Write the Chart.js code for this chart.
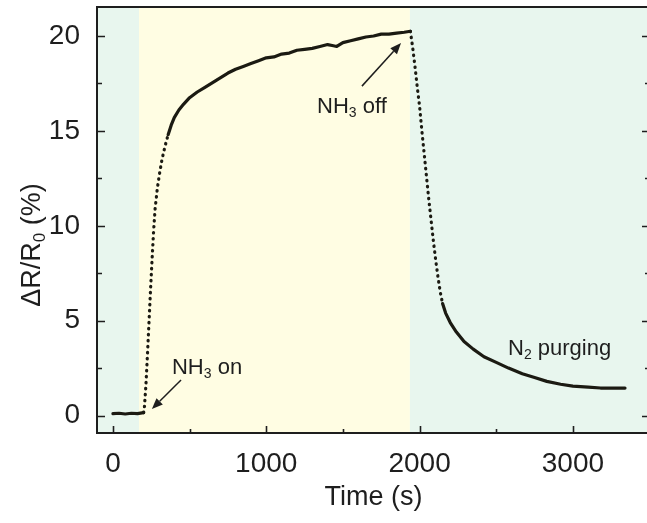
<!DOCTYPE html>
<html><head><meta charset="utf-8">
<script src="https://cdn.jsdelivr.net/npm/chart.js@4.4.1/dist/chart.umd.min.js"></script>
<style>
html,body{margin:0;padding:0;background:#fff;overflow:hidden}
#wrap{width:647px;height:523px;overflow:hidden;position:relative}
canvas{display:block}
</style></head><body>
<div id="wrap"><canvas id="c" width="652" height="523"></canvas></div>
<script>
// ---- data ----
const timeS = [0, 40, 80, 120, 160, 200, 205, 215, 225, 235, 245, 255, 265, 275, 290, 305, 320, 340, 360, 380, 400,
  430, 460, 500, 550, 600, 650, 700, 750, 800, 850, 900, 950, 1000, 1050, 1100, 1150, 1200, 1250, 1300,
  1350, 1400, 1430, 1460, 1500, 1550, 1600, 1650, 1700, 1750, 1800, 1850, 1900, 1940,
  1955, 1970, 1985, 2000, 2015, 2030, 2045, 2060, 2075, 2090, 2105, 2120, 2135, 2150, 2170, 2200,
  2240, 2290, 2350, 2420, 2500, 2580, 2670, 2750, 2830, 2920, 3000, 3100, 3180, 3260, 3340];
const responsePct = [0.1, 0.12, 0.08, 0.12, 0.1, 0.15, 0.4, 1.6, 3.2, 4.9, 6.6, 8.2, 9.7, 10.9, 12.0, 12.8, 13.5, 14.2, 14.8, 15.3, 15.7,
  16.1, 16.4, 16.75, 17.05, 17.3, 17.55, 17.8, 18.05, 18.25, 18.4, 18.55, 18.7, 18.85, 18.9, 19.05, 19.1, 19.25, 19.3, 19.35,
  19.45, 19.55, 19.5, 19.45, 19.65, 19.75, 19.85, 19.95, 20.0, 20.1, 20.1, 20.15, 20.2, 20.25,
  19.4, 18.4, 17.3, 16.3, 15.0, 13.8, 12.6, 11.4, 10.3, 9.2, 8.2, 7.3, 6.5, 5.9, 5.4, 4.9,
  4.4, 3.9, 3.5, 3.1, 2.8, 2.5, 2.2, 2.0, 1.8, 1.65, 1.55, 1.5, 1.45, 1.45, 1.45];
const xTicks = [0, 1000, 2000, 3000];
const yTicks = [0, 5, 10, 15, 20];
const phaseEdges = [170, 1937];          // NH3 switched on / off (s)
const xTitle = 'Time (s)';
const yTitleParts = [['ΔR/R', false], ['0', true], [' (%)', false]];
const notes = [
  { parts: [['NH', false], ['3', true], [' on', false]], t: 385, v: 2.19 },
  { parts: [['NH', false], ['3', true], [' off', false]], t: 1331, v: 15.94 },
  { parts: [['N', false], ['2', true], [' purging', false]], t: 2577, v: 3.19 }
];
const arrows = [
  { from: [444, 1.87], to: [254, 0.34] },
  { from: [1624, 17.36], to: [1879, 19.63] }
];

// ---- styling ----
const FONT = '"Liberation Sans", Arial, Helvetica, sans-serif';
const INK = '#1e1e1e';
const MINT = '#e8f6ee';
const YELLOW = '#fffde3';

function drawParts(ctx, parts, x, y, size, align) {
  const subSize = Math.round(size * 0.62);
  let total = 0;
  parts.forEach(([s, sub]) => { ctx.font = (sub ? subSize : size) + 'px ' + FONT; total += ctx.measureText(s).width; });
  let cx = align === 'center' ? x - total / 2 : x;
  ctx.textAlign = 'left'; ctx.textBaseline = 'alphabetic';
  parts.forEach(([s, sub]) => {
    ctx.font = (sub ? subSize : size) + 'px ' + FONT;
    ctx.fillText(s, cx, sub ? y + size * 0.2 : y);
    cx += ctx.measureText(s).width;
  });
}

const framePlugin = {
  id: 'frame',
  beforeDraw(chart) {
    const { ctx, chartArea: a, scales: { x } } = chart;
    ctx.save();
    ctx.fillStyle = '#fff'; ctx.fillRect(0, 0, chart.width, chart.height);
    const x0 = x.getPixelForValue(phaseEdges[0]), x1 = x.getPixelForValue(phaseEdges[1]);
    const h = a.bottom - a.top;
    ctx.fillStyle = MINT; ctx.fillRect(a.left, a.top, x0 - a.left, h);
    ctx.fillStyle = YELLOW; ctx.fillRect(x0, a.top, x1 - x0, h);
    ctx.fillStyle = MINT; ctx.fillRect(x1, a.top, a.right - x1, h);
    ctx.restore();
  },
  afterDatasetsDraw(chart) {
    const { ctx, chartArea: a, scales: { x, y } } = chart;
    ctx.save();
    ctx.strokeStyle = INK; ctx.fillStyle = INK;
    // ticks (inward)
    ctx.lineWidth = 1.6;
    ctx.beginPath();
    yTicks.forEach((v, i) => {
      const p = Math.round(y.getPixelForValue(v)) + 0.5;
      ctx.moveTo(a.left, p); ctx.lineTo(a.left + 8, p);
      ctx.moveTo(a.right, p); ctx.lineTo(a.right - 8, p);
      if (i < yTicks.length - 1) {
        const m = Math.round(y.getPixelForValue((v + yTicks[i + 1]) / 2)) + 0.5;
        ctx.moveTo(a.left, m); ctx.lineTo(a.left + 5, m);
        ctx.moveTo(a.right, m); ctx.lineTo(a.right - 5, m);
      }
    });
    xTicks.forEach((v, i) => {
      const p = Math.round(x.getPixelForValue(v)) + 0.5;
      ctx.moveTo(p, a.bottom); ctx.lineTo(p, a.bottom - 7);
      const m = Math.round(x.getPixelForValue(v + (xTicks[1] - xTicks[0]) / 2)) + 0.5;
      ctx.moveTo(m, a.bottom); ctx.lineTo(m, a.bottom - 4);
    });
    ctx.stroke();
    // frame
    ctx.lineWidth = 2;
    ctx.strokeRect(a.left, a.top, a.right - a.left, a.bottom - a.top);
    // arrows
    ctx.lineWidth = 1.5;
    arrows.forEach(ar => {
      const fx = x.getPixelForValue(ar.from[0]), fy = y.getPixelForValue(ar.from[1]);
      const tx = x.getPixelForValue(ar.to[0]), ty = y.getPixelForValue(ar.to[1]);
      const ang = Math.atan2(ty - fy, tx - fx), L = 11, W = 4.5;
      const bx = tx - L * Math.cos(ang), by = ty - L * Math.sin(ang);
      ctx.beginPath(); ctx.moveTo(fx, fy); ctx.lineTo(bx, by); ctx.stroke();
      ctx.beginPath();
      ctx.moveTo(tx, ty);
      ctx.lineTo(bx + W * Math.sin(ang), by - W * Math.cos(ang));
      ctx.lineTo(bx - W * Math.sin(ang), by + W * Math.cos(ang));
      ctx.closePath(); ctx.fill();
    });
    // notes
    notes.forEach(n => drawParts(ctx, n.parts, x.getPixelForValue(n.t), y.getPixelForValue(n.v), 22, 'left'));
    // axis titles
    drawParts(ctx, [[xTitle, false]], (a.left + a.right) / 2, 505, 27, 'center');
    ctx.translate(40, 245); ctx.rotate(-Math.PI / 2);
    drawParts(ctx, yTitleParts, 0, 0, 27, 'center');
    ctx.restore();
  }
};

const steep = c => Math.abs(c.p1.y - c.p0.y) > 3.2 * Math.abs(c.p1.x - c.p0.x);

new Chart(document.getElementById('c'), {
  type: 'line',
  data: {
    datasets: [{
      data: timeS.map((t, i) => ({ x: t, y: responsePct[i] })),
      borderColor: '#1b1a12',
      borderWidth: 3.2,
      borderCapStyle: 'round',
      borderJoinStyle: 'round',
      pointRadius: 0,
      tension: 0,
      fill: false,
      segment: { borderDash: c => steep(c) ? [0.5, 5.5] : undefined }
    }]
  },
  options: {
    responsive: false,
    animation: false,
    devicePixelRatio: 1,
    layout: { padding: { top: 7, right: 2, left: 0, bottom: 0 } },
    plugins: { legend: { display: false }, tooltip: { enabled: false } },
    scales: {
      x: {
        type: 'linear', min: -104, max: 3503,
        afterBuildTicks: s => { s.ticks = xTicks.map(v => ({ value: v })); },
        afterFit: s => { s.height = 90; s.paddingLeft = 0; s.paddingRight = 0; },
        grid: { display: false }, border: { display: false },
        ticks: { font: { size: 28, family: FONT }, color: INK, padding: 6, maxRotation: 0, autoSkip: false,
                 callback: v => String(v) }
      },
      y: {
        type: 'linear', min: -0.92, max: 21.53,
        afterBuildTicks: s => { s.ticks = yTicks.map(v => ({ value: v })); },
        afterFit: s => { s.width = 97; s.paddingTop = 0; s.paddingBottom = 0; },
        grid: { display: false }, border: { display: false },
        ticks: { font: { size: 28, family: FONT }, color: INK, padding: 9, autoSkip: false,
                 callback: v => String(v) }
      }
    }
  },
  plugins: [framePlugin]
});
</script>
</body></html>
